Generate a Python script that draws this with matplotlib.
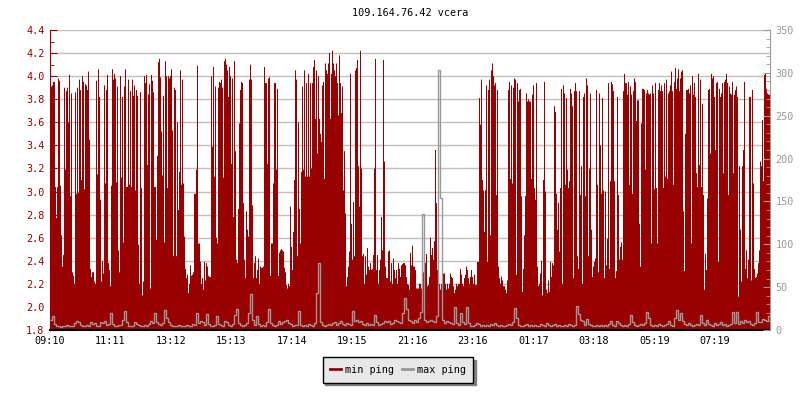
import numpy as np
import matplotlib
matplotlib.use('Agg')
import matplotlib.pyplot as plt
from matplotlib.lines import Line2D
from matplotlib.ticker import MultipleLocator, FormatStrFormatter

# ----------------------------------------------------------------
# Style
# ----------------------------------------------------------------
RED = '#990000'
GRAY = '#999999'
GRID = '#c0c0c0'
plt.rcParams['font.family'] = 'DejaVu Sans Mono'
plt.rcParams['font.size'] = 7.3

# ----------------------------------------------------------------
# Data
# min ping in ms, one value per 2 minutes, four-hour blocks
# max ping in ms, one value per 4 minutes, same blocks
# ----------------------------------------------------------------
title = '109.164.76.42 vcera'
start = '09:10'
tick_labels = ['09:10', '11:11', '13:12', '15:13', '17:14', '19:15',
               '21:16', '23:16', '01:17', '03:18', '05:19', '07:19']
series_names = ['min ping', 'max ping']

min_0910 = [
    3.90, 3.91, 3.92, 3.95, 3.95, 3.04, 2.77, 3.04, 3.98, 3.96,
    3.05, 2.62, 2.35, 2.45, 3.90, 3.19, 3.87, 3.90, 3.60, 4.01,
    2.96, 3.85, 2.30, 2.27, 2.20, 3.86, 2.98, 3.90, 2.99, 3.97,
    3.88, 3.10, 4.00, 3.95, 3.02, 3.93, 3.92, 3.88, 4.04, 3.45,
    2.33, 2.26, 2.30, 2.30, 2.22, 2.20, 3.96, 3.15, 4.06, 3.82,
    2.93, 2.22, 2.40, 2.29, 3.92, 3.07, 3.88, 4.01, 2.38, 2.32,
    2.18, 3.05, 4.06, 3.97, 4.02, 3.98, 3.08, 3.91, 2.49, 2.30,
    4.00, 3.12, 3.82, 2.56, 3.91, 4.06, 3.04, 3.04, 3.97, 3.06,
    3.87, 3.04, 3.97, 3.83, 3.92, 3.01, 3.88, 3.83, 2.54, 2.20,
    3.86, 3.03, 2.10, 2.22, 4.00, 3.94, 4.01, 3.23, 3.84, 3.93,
    2.16, 4.01, 3.96, 3.86, 3.04, 3.04, 2.58, 3.31, 4.12, 4.15,
    3.99, 3.52, 3.14, 3.83, 2.56, 4.13, 4.00, 3.03, 4.00, 3.98]
min_1310 = [
    4.00, 4.06, 3.53, 2.44, 3.90, 3.88, 2.44, 3.60, 2.84, 3.17,
    4.05, 3.06, 3.97, 3.07, 2.61, 2.33, 2.25, 2.28, 2.12, 2.20,
    2.36, 2.27, 2.28, 2.30, 2.98, 2.98, 3.19, 4.09, 2.55, 2.55,
    2.39, 2.20, 2.25, 2.15, 2.39, 2.23, 2.38, 2.35, 2.27, 2.26,
    2.26, 4.00, 3.39, 4.08, 3.13, 3.91, 2.60, 2.55, 3.90, 3.95,
    3.94, 3.97, 3.90, 3.12, 4.13, 4.15, 4.10, 4.05, 3.82, 4.08,
    4.00, 3.24, 3.98, 2.78, 4.13, 3.35, 2.41, 2.38, 2.85, 3.59,
    3.88, 3.95, 3.94, 2.90, 2.41, 2.25, 2.83, 2.67, 2.61, 3.97,
    4.10, 3.97, 2.88, 2.25, 2.38, 2.44, 2.25, 2.32, 2.42, 2.20,
    2.35, 2.34, 2.34, 2.35, 4.08, 3.94, 3.94, 3.24, 3.98, 3.99,
    2.27, 2.55, 2.55, 3.07, 3.94, 3.94, 3.19, 3.89, 2.27, 2.47,
    2.49, 2.50, 2.49, 2.48, 2.34, 2.30, 2.19, 2.16, 2.20, 2.18]
min_1710 = [
    2.87, 2.52, 2.32, 2.65, 3.10, 4.05, 3.97, 2.44, 3.60, 2.85,
    2.55, 3.17, 3.91, 3.19, 4.05, 3.13, 3.94, 3.13, 4.02, 3.13,
    3.94, 3.20, 3.94, 4.08, 4.14, 3.63, 4.05, 3.33, 4.00, 3.63,
    3.50, 3.43, 3.92, 3.95, 3.11, 4.11, 4.05, 4.02, 4.11, 4.20,
    3.63, 4.02, 4.22, 4.11, 4.05, 4.00, 4.11, 3.94, 3.66, 4.18,
    3.94, 3.68, 3.91, 3.01, 3.35, 2.81, 2.18, 2.26, 2.35, 2.48,
    4.02, 2.72, 2.41, 2.91, 2.44, 4.05, 4.07, 4.14, 3.22, 2.87,
    4.22, 3.20, 2.44, 2.46, 2.20, 2.44, 2.28, 2.51, 2.35, 2.32,
    2.38, 2.32, 2.33, 2.45, 3.20, 4.15, 2.32, 2.45, 2.20, 2.32,
    2.41, 2.78, 2.49, 4.14, 3.26, 2.35, 2.25, 2.25, 2.48, 2.49,
    2.22, 2.38, 2.20, 2.42, 2.32, 2.25, 2.32, 2.20, 2.38, 2.33,
    2.26, 2.36, 2.37, 2.38, 2.38, 2.36, 2.26, 2.20, 2.19, 2.15]
min_2110 = [
    2.47, 2.36, 2.53, 2.35, 2.35, 2.32, 2.16, 2.16, 2.16, 2.20,
    2.20, 2.16, 2.35, 2.30, 2.41, 2.38, 2.46, 2.18, 2.19, 2.26,
    2.60, 2.45, 2.51, 2.41, 2.57, 3.36, 2.90, 2.32, 2.27, 2.20,
    2.15, 2.20, 2.13, 2.29, 2.29, 2.20, 2.15, 2.20, 2.16, 2.20,
    2.29, 2.26, 2.25, 2.18, 2.12, 2.15, 2.20, 2.18, 2.20, 2.20,
    2.33, 2.28, 2.20, 2.18, 2.25, 2.28, 2.35, 2.32, 2.25, 2.20,
    2.26, 2.32, 2.26, 2.20, 2.28, 2.19, 2.19, 2.39, 2.39, 3.81,
    3.58, 3.97, 3.10, 3.01, 2.65, 3.01, 3.92, 2.39, 3.88, 3.97,
    2.62, 4.05, 4.11, 4.00, 3.92, 3.94, 2.97, 3.88, 2.35, 2.25,
    2.20, 2.26, 2.23, 2.18, 2.18, 2.15, 2.12, 2.23, 3.88, 3.95,
    3.11, 3.92, 3.07, 3.90, 3.98, 3.97, 2.28, 3.94, 3.78, 3.88,
    3.89, 2.96, 2.13, 2.33, 2.62, 2.96, 3.85, 3.78, 3.80, 3.78]
min_0110 = [
    3.78, 3.11, 3.84, 3.92, 3.03, 2.93, 3.94, 2.35, 2.18, 2.20,
    2.29, 2.40, 2.10, 3.10, 3.95, 3.00, 2.15, 2.12, 2.23, 2.13,
    2.39, 2.26, 2.38, 2.36, 3.74, 3.69, 2.98, 2.67, 2.90, 2.48,
    3.03, 3.89, 2.20, 3.92, 3.85, 3.06, 3.81, 3.19, 3.03, 3.09,
    3.89, 3.85, 3.74, 2.25, 3.87, 3.94, 3.87, 2.44, 2.33, 3.87,
    2.97, 3.22, 2.20, 3.82, 3.85, 2.96, 3.98, 3.92, 2.44, 3.20,
    3.85, 2.67, 2.26, 2.35, 2.39, 2.42, 3.88, 3.06, 2.30, 3.85,
    3.40, 2.98, 3.81, 3.01, 2.25, 3.00, 2.36, 2.59, 3.94, 2.33,
    3.09, 3.95, 3.93, 3.87, 3.09, 2.25, 2.31, 3.82, 2.97, 2.41,
    2.52, 2.56, 2.41, 3.87, 4.02, 3.94, 3.94, 3.84, 3.95, 3.06,
    3.91, 3.84, 2.98, 3.87, 3.98, 3.95, 3.61, 3.79, 3.79, 2.72,
    2.35, 3.59, 3.89, 3.89, 3.88, 3.19, 3.85, 3.88, 3.85, 3.84]
min_0510 = [
    3.85, 2.55, 3.92, 3.85, 3.02, 3.94, 3.03, 2.55, 3.88, 3.94,
    3.87, 3.92, 3.87, 3.03, 3.94, 3.13, 3.97, 3.11, 3.85, 3.87,
    3.92, 4.04, 3.87, 3.06, 3.95, 4.07, 3.89, 3.98, 4.06, 3.87,
    3.98, 4.04, 4.05, 2.83, 2.31, 3.50, 3.88, 3.88, 3.89, 3.85,
    3.92, 2.55, 4.00, 3.84, 3.94, 3.82, 3.16, 3.04, 4.02, 3.23,
    3.97, 3.04, 3.76, 2.97, 2.15, 2.46, 2.32, 2.94, 3.88, 3.89,
    3.33, 4.02, 3.98, 4.00, 3.82, 3.36, 3.94, 3.95, 2.39, 3.89,
    3.82, 3.85, 3.94, 3.16, 3.95, 3.97, 4.02, 3.94, 2.97, 3.91,
    3.85, 3.84, 3.95, 3.16, 3.84, 3.88, 3.91, 3.82, 2.09, 3.22,
    2.67, 2.22, 3.22, 3.36, 3.95, 2.33, 2.49, 2.25, 2.41, 3.82,
    3.82, 2.23, 3.88, 3.07, 2.33, 2.25, 2.26, 2.29, 2.38, 2.49,
    3.26, 3.22, 3.62, 3.09, 4.01, 4.02, 3.89, 3.85, 3.84, 3.84]

max_0910 = [12, 16, 7, 5, 5, 4, 5, 5, 6, 5, 5, 5, 8, 10, 9, 6, 5, 5, 6, 5,
            9, 7, 8, 5, 5, 9, 8, 10, 6, 7, 20, 7, 5, 5, 6, 6, 12, 22, 9, 5,
            5, 5, 9, 7, 6, 5, 5, 6, 5, 7, 10, 8, 20, 9, 7, 6, 8, 23, 14, 9]
max_1310 = [6, 5, 5, 5, 6, 5, 5, 5, 6, 5, 5, 7, 6, 20, 8, 10, 9, 6, 19, 7,
            5, 5, 6, 16, 7, 6, 5, 11, 9, 6, 5, 7, 17, 24, 8, 6, 5, 6, 8, 20,
            42, 12, 6, 16, 7, 5, 6, 5, 9, 24, 8, 6, 5, 6, 10, 7, 9, 10, 12, 8]
max_1710 = [7, 5, 6, 6, 22, 6, 5, 6, 5, 7, 6, 5, 8, 43, 78, 9, 6, 5, 6, 7,
            6, 8, 9, 6, 8, 10, 7, 6, 8, 7, 6, 22, 10, 12, 9, 11, 7, 6, 8, 6,
            7, 6, 18, 9, 6, 7, 8, 10, 9, 10, 7, 8, 12, 11, 9, 8, 20, 37, 25, 12]
max_2110 = [10, 8, 12, 9, 14, 21, 135, 12, 9, 10, 12, 11, 9, 16, 303, 154, 12, 8, 10, 9,
            8, 7, 27, 8, 6, 20, 9, 7, 27, 8, 5, 5, 6, 8, 7, 5, 6, 5, 6, 5,
            7, 6, 8, 6, 5, 6, 5, 5, 6, 7, 6, 9, 26, 14, 6, 5, 5, 6, 7, 5]
max_0110 = [6, 5, 6, 5, 5, 7, 6, 5, 8, 6, 5, 6, 7, 5, 6, 5, 5, 6, 5, 7,
            6, 5, 6, 28, 19, 12, 10, 6, 13, 7, 6, 5, 5, 6, 5, 6, 5, 6, 5, 7,
            10, 6, 5, 10, 8, 6, 5, 6, 5, 7, 17, 9, 6, 5, 6, 7, 6, 8, 21, 14]
max_0510 = [6, 5, 6, 5, 7, 6, 5, 6, 7, 10, 6, 5, 14, 23, 12, 20, 10, 7, 6, 8,
            6, 5, 6, 7, 6, 17, 8, 6, 12, 7, 6, 5, 8, 6, 7, 9, 6, 7, 5, 6,
            7, 21, 8, 21, 7, 10, 8, 12, 9, 10, 7, 6, 8, 21, 9, 9, 13, 12, 10, 16]

min_ping = np.concatenate([min_0910, min_1310, min_1710, min_2110, min_0110, min_0510])
max_ping = np.concatenate([max_0910, max_1310, max_1710, max_2110, max_0110, max_0510])

# time axis in minutes after the start
t_min = np.arange(len(min_ping) + 1) * 2
t_max = np.arange(len(max_ping) + 1) * 4


def minutes_after_start(hhmm):
    h, m = map(int, hhmm.split(':'))
    h0, m0 = map(int, start.split(':'))
    return ((h * 60 + m) - (h0 * 60 + m0)) % 1440


tick_pos = [minutes_after_start(s) for s in tick_labels]

# ----------------------------------------------------------------
# Plot
# ----------------------------------------------------------------
fig = plt.figure(figsize=(8, 4), dpi=100)
ax = fig.add_axes([50 / 800, 70 / 400, 720 / 800, 300 / 400])

ax.stairs(min_ping, t_min, baseline=1.8, fill=True, color=RED, lw=0)
ax.set_xlim(0, 1440)
ax.set_ylim(1.8, 4.4)
ax.yaxis.set_major_locator(MultipleLocator(0.2))
ax.yaxis.set_minor_locator(MultipleLocator(0.1))
ax.yaxis.set_major_formatter(FormatStrFormatter('%.1f'))
ax.yaxis.grid(True, color=GRID, lw=1)
ax.set_axisbelow(True)
ax.set_xticks(tick_pos)
ax.set_xticklabels(tick_labels)

ax.tick_params(axis='y', which='both', direction='in', colors=RED, pad=4)
ax.tick_params(axis='y', which='major', length=5)
ax.tick_params(axis='y', which='minor', length=3)
ax.tick_params(axis='x', direction='in', colors='black', length=5, pad=4)
ax.spines['top'].set_visible(False)
ax.spines['right'].set_visible(False)
ax.spines['left'].set_color(RED)
ax.spines['bottom'].set_color('black')
ax.spines['bottom'].set_linewidth(1.5)

ax2 = ax.twinx()
ax2.stairs(max_ping, t_max, baseline=None, color=GRAY, lw=1)
ax2.set_ylim(0, 350)
ax2.yaxis.set_major_locator(MultipleLocator(50))
ax2.yaxis.set_minor_locator(MultipleLocator(10))
ax2.tick_params(axis='y', which='both', direction='in', colors=GRAY, pad=4)
ax2.tick_params(axis='y', which='major', length=5)
ax2.tick_params(axis='y', which='minor', length=3)
for side in ['top', 'left', 'bottom']:
    ax2.spines[side].set_visible(False)
ax2.spines['right'].set_color(GRAY)

fig.text(410 / 800, 1 - 13 / 400, title, ha='center', va='center', color='black')

handles = [Line2D([], [], color=RED, lw=2), Line2D([], [], color=GRAY, lw=2)]
leg = fig.legend(handles, series_names, loc='center',
                 bbox_to_anchor=(398 / 800, 1 - 370 / 400), ncol=2,
                 frameon=True, fancybox=False, edgecolor='black',
                 facecolor='#e8e8e8', framealpha=1,
                 shadow={'facecolor': '#808080', 'edgecolor': '#808080', 'alpha': 1},
                 handlelength=1.1, handletextpad=0.35, columnspacing=0.8,
                 borderpad=0.75)
leg.get_frame().set_linewidth(1)

fig.savefig('out.png', dpi=100)
